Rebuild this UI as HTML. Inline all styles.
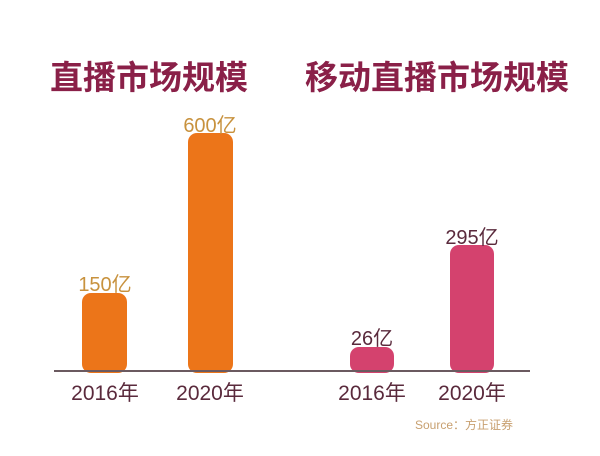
<!DOCTYPE html>
<html><head><meta charset="utf-8"><style>
body{margin:0;width:600px;height:456px;background:#fff;position:relative;overflow:hidden;font-family:"Liberation Sans","Noto Sans CJK SC",sans-serif}
.a{position:absolute;white-space:nowrap}
.t{font-size:33px;font-weight:bold;color:#8a2048;top:51px}
.b{position:absolute;border-radius:9px}
.o{background:#ec7519}.p{background:#d4426e}
.v{font-size:20px;transform:translateX(-50%)}
.y{font-size:21px;color:#5a2a3c;top:377px;transform:translateX(-50%)}
</style></head><body>
<div class="a t" style="left:50px">直播市场规模</div>
<div class="a t" style="left:305px">移动直播市场规模</div>
<div class="b o" style="left:82px;top:293px;width:45px;height:80px"></div>
<div class="b o" style="left:188px;top:133px;width:45px;height:240px"></div>
<div class="b p" style="left:350px;top:347px;width:44px;height:26px"></div>
<div class="b p" style="left:450px;top:245px;width:44px;height:128px"></div>
<div class="a" style="left:54px;top:370px;width:476px;height:2px;background:#6b5a60"></div>
<div class="a v" style="left:105px;top:268px;color:#c8923e">150亿</div>
<div class="a v" style="left:210px;top:109px;color:#c8923e">600亿</div>
<div class="a v" style="left:372px;top:322px;color:#5a2a3c">26亿</div>
<div class="a v" style="left:472px;top:221px;color:#5a2a3c">295亿</div>
<div class="a y" style="left:105px">2016年</div>
<div class="a y" style="left:210px">2020年</div>
<div class="a y" style="left:372px">2016年</div>
<div class="a y" style="left:472px">2020年</div>
<div class="a" style="left:415px;top:416px;font-size:12px;color:#c8a070">Source：方正证券</div>
</body></html>
